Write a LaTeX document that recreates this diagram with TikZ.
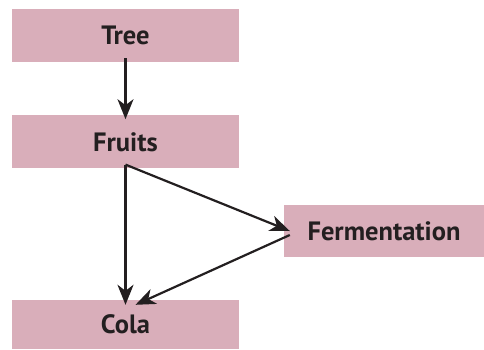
\documentclass[tikz,border=0pt]{standalone}
\usepackage{fontspec}
\setmainfont{PT Sans}
\usetikzlibrary{arrows.meta,positioning}
\definecolor{boxpink}{HTML}{D9AEBA}
\definecolor{inkdark}{HTML}{231F20}

\begin{document}
\begin{tikzpicture}[%
    x=1pt, y=-1pt,              % Pixel-like units, y grows downwards
    >={Stealth[length=20pt,width=16pt,inset=6pt]},
    ]
% -------------------------------------------------
% Box and connector styles
\tikzset{
  box/.style={fill=boxpink, inner sep=0pt, minimum width=227pt,
    minimum height=53pt, font={\fontsize{26.5}{30}\selectfont\bfseries},
    text=inkdark},
  flow/.style={->, draw=inkdark, line width=2.2pt}
}
\useasboundingbox (0,0) rectangle (484,349);
% -------------------------------------------------
% The nodes
\node [box] (tree) at (125.5,35.5) {Tree};
\node [box, below=53pt of tree] (fruits) {Fruits};
\node [box, minimum width=200pt, minimum height=52pt] (ferm)
  at (384,231) {Fermentation};
\node [box, minimum height=49pt] (cola) at (125.5,324.5) {Cola};

% The connectors
\draw [flow] ([yshift=4pt]tree.south) -- ([yshift=-4pt]fruits.north);
\draw [flow] ([yshift=4pt]fruits.south) -- ([yshift=-5pt]cola.north);
\draw [flow] ([yshift=4pt]fruits.south) -- ([xshift=6pt]ferm.west);
\draw [flow] ([xshift=6pt,yshift=-4pt]ferm.west)
  -- ([xshift=10pt,yshift=-5pt]cola.north);
% -------------------------------------------------
\end{tikzpicture}
\end{document}
